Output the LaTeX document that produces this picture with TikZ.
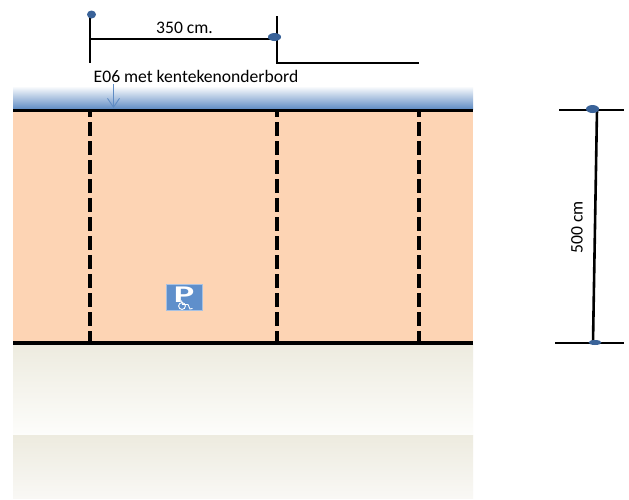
\documentclass[tikz,border=0pt]{standalone}
\usepackage{fontspec}
\setmainfont{Carlito}
\usetikzlibrary{arrows.meta,shapes.geometric}
\definecolor{lot}{HTML}{FDD4B4}
\definecolor{dotblue}{HTML}{3A6399}
\definecolor{signblue}{HTML}{5F8FCB}
\definecolor{beige}{HTML}{EDEBDF}
\definecolor{paleend}{HTML}{FDFDFB}
\definecolor{paleendb}{HTML}{F9F8F5}
\definecolor{arrowblue}{HTML}{5F8CC4}
\tikzset{
  x=1pt,y=-1pt,
  blk/.style={draw=black,line width=2pt},
  thick line/.style={draw=black,line width=3pt},
  lotdash/.style={draw=black,line width=3.8pt,dash pattern=on 14pt off 5pt,dash phase=7pt},
  dot/.style={ellipse,fill=dotblue,inner sep=0pt},
  lbl/.style={font=\fontsize{17.6}{20}\selectfont,text=black,inner sep=0pt},
}
\begin{document}
\begin{tikzpicture}
\useasboundingbox (0,0) rectangle (629,499);
\fill[white] (0,0) rectangle (629,499);
% sky band
\shade[top color=white,bottom color=arrowblue] (13,86) rectangle (473,109);
% lot
\fill[lot] (13,110) rectangle (473,342);
% pavement
\shade[top color=beige,bottom color=paleend] (13,344) rectangle (473,435);
\shade[top color=beige,bottom color=paleendb] (13,435) rectangle (473,498);
% coordinates
\coordinate (ta) at (13,110);\coordinate (tb) at (473,110);
\coordinate (ba) at (13,342.5);\coordinate (bb) at (473,342.5);
\coordinate (d1a) at (90,110);\coordinate (d1b) at (90,342);
\coordinate (d2a) at (277,110);\coordinate (d2b) at (277,342);
\coordinate (d3a) at (419,110);\coordinate (d3b) at (419,342);
\draw[lotdash] (d1a)--(d1b);
\draw[lotdash] (d2a)--(d2b);
\draw[lotdash] (d3a)--(d3b);
\draw[thick line] (ta)--(tb);
\draw[line width=4pt] (ba)--(bb);
% dimension 350
\coordinate (v1a) at (90,16);\coordinate (v1b) at (90,62.5);
\coordinate (v2a) at (277,16);\coordinate (v2b) at (277,63);\coordinate (v2c) at (419,63);
\coordinate (h1) at (90,39);\coordinate (h2) at (274,39);
\draw[blk] (v1a)--(v1b);
\draw[blk] (h1)--(h2);
\draw[blk] (v2a)--(v2b)--(v2c);
\node[dot,minimum width=9pt,minimum height=8pt] (p1) at (91.5,14.5) {};
\node[dot,minimum width=13pt,minimum height=8pt] (p2) at (274.5,37) {};
\node[lbl] (t350) at (184.5,28) {350 cm.};
\node[lbl] (te06) at (196,76) {E06 met kentekenonderbord};
\coordinate (ar1) at (113.5,84);\coordinate (ar2) at (113.5,108);
\draw[arrowblue,line width=0.8pt,-{Straight Barb[length=9pt,width=12pt]}] (ar1)--(ar2);
% sign
\node[draw=signblue!55!white,line width=1pt,fill=signblue,minimum width=36pt,minimum height=26pt,inner sep=0pt] (sign) at (184.5,297.5) {};
\node[font=\bfseries\fontsize{24}{24}\selectfont,text=white,inner sep=0pt,xscale=1.6] (pp) at (184,294.5) {P};
\draw[white,line width=0.9pt] (182,306) circle (3.4);
\draw[white,line width=0.9pt] (181.5,300.5) -- (182.5,304.5) -- (188,304.5) -- (190,309) -- (192.5,308.5);
% dimension 500
\coordinate (r1a) at (559,109.5);\coordinate (r1b) at (624,109.5);
\coordinate (r2a) at (555,342.5);\coordinate (r2b) at (624,342.5);
\coordinate (m1) at (597,109.5);\coordinate (m2) at (593,342.5);
\draw[blk] (r1a)--(r1b);
\draw[blk] (r2a)--(r2b);
\draw[draw=black,line width=2.6pt] (m1)--(m2);
\node[dot,minimum width=13pt,minimum height=8pt] (q1) at (592.5,109) {};
\node[dot,minimum width=13pt,minimum height=5pt] (q2) at (595,342.5) {};
\node[lbl,rotate=90] (t500) at (577,227.5) {500 cm};
\end{tikzpicture}
\end{document}
